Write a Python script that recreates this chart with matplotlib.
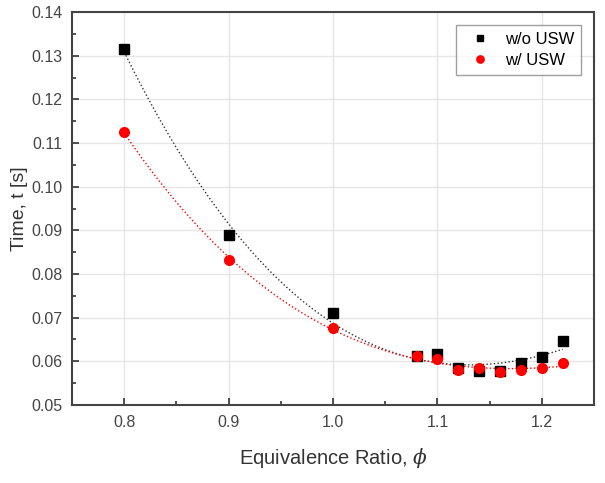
import numpy as np
import matplotlib.pyplot as plt

plt.rcParams['font.family'] = ['Liberation Sans', 'DejaVu Sans']
plt.rcParams['mathtext.fontset'] = 'dejavuserif'

phi = [0.8, 0.9, 1.0, 1.08, 1.1, 1.12, 1.14, 1.16, 1.18, 1.2, 1.22]
t_without = [0.1316, 0.0889, 0.0711, 0.0612, 0.0617, 0.0584, 0.0578, 0.0577, 0.0596, 0.0611, 0.0647]
t_with = [0.1125, 0.0832, 0.0676, 0.0612, 0.0606, 0.0580, 0.0585, 0.0576, 0.0580, 0.0584, 0.0596]

fig = plt.figure(figsize=(6.05, 4.83), dpi=100)
ax = fig.add_axes([72/605, 78/483, 522/605, 393/483])

xs = np.linspace(0.8, 1.22, 200)
fit_wo = np.polyval(np.polyfit(phi, t_without, 3), xs)
fit_w = np.polyval(np.polyfit(phi, t_with, 3), xs)
ax.plot(xs, fit_wo, ':', color='#333333', lw=1)
ax.plot(xs, fit_w, ':', color='red', lw=1)

ax.plot(phi, t_without, 's', color='black', ms=6.5, label='w/o USW', zorder=3)
ax.plot(phi, t_with, 'o', color='red', ms=7, label='w/ USW', zorder=3)

ax.set_xlim(0.75, 1.25)
ax.set_ylim(0.05, 0.14)
ax.set_xticks([0.8, 0.9, 1.0, 1.1, 1.2])
ax.set_xticks([0.85, 0.95, 1.05, 1.15], minor=True)
ax.set_yticks(np.arange(0.05, 0.1401, 0.01))
ax.set_yticks(np.arange(0.055, 0.14, 0.01), minor=True)
ax.set_xticklabels(['0.8', '0.9', '1.0', '1.1', '1.2'])
ax.set_yticklabels(['%.2f' % v for v in np.arange(0.05, 0.1401, 0.01)])
ax.tick_params(which='both', direction='in', colors='#333333', labelcolor='#444444', labelsize=11.5, width=1.2)
ax.tick_params(which='major', length=5, pad=7)
ax.tick_params(which='minor', length=3)
ax.grid(True, color='#e6e6e6', lw=1)
ax.set_axisbelow(True)
for s in ax.spines.values():
    s.set_linewidth(1.5)
    s.set_color('#444444')

ax.set_xlabel(r'Equivalence Ratio, $\phi$', fontsize=14.5, color='#333333', labelpad=12)
ax.set_ylabel('Time, t [s]', fontsize=14, color='#333333', labelpad=2)

leg = ax.legend(loc='upper right', fontsize=12, fancybox=False, edgecolor='#888888',
                borderaxespad=0.8, handletextpad=0.5, markerscale=0.75,
                labelspacing=0.35, borderpad=0.4)
leg.get_frame().set_linewidth(1)

plt.savefig('out.png')
